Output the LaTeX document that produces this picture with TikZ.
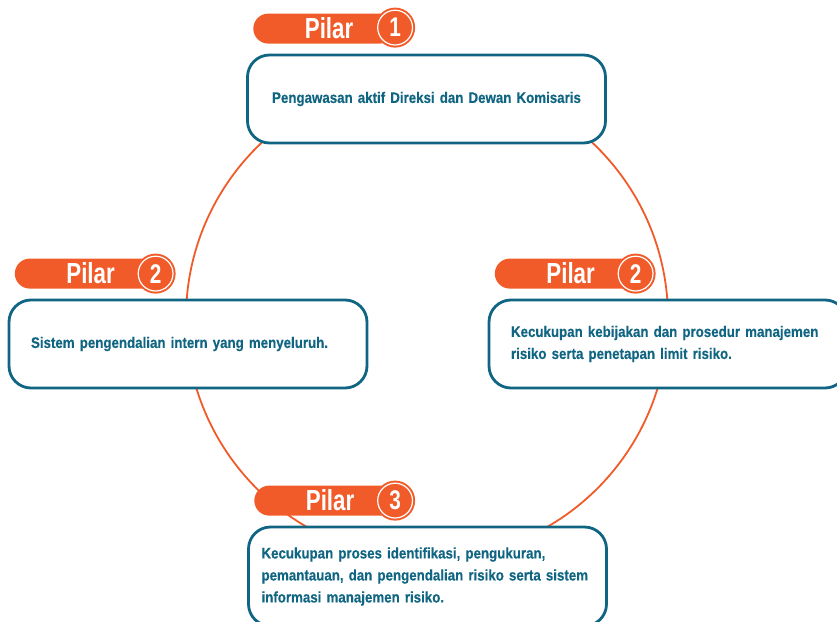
\documentclass[tikz,border=0pt]{standalone}
\usepackage{fontspec}
\newfontfamily\boxfont[FakeStretch=0.87, WordSpace=0.6, FakeBold=0.3]{Liberation Sans}
\newfontfamily\tagfont[FakeStretch=0.77]{Liberation Sans}
\usetikzlibrary{positioning}
\definecolor{pilarorange}{RGB}{241,91,41}
\definecolor{pilarteal}{RGB}{16,101,130}

\begin{document}
\begin{tikzpicture}[x=1pt, y=-1pt,
  pilarbox/.style={draw=pilarteal, line width=2.8pt, fill=white, rounded corners=22pt, minimum width=358pt, minimum height=88pt, inner xsep=22pt, text width=314pt, align=left, text=pilarteal, font=\boxfont\bfseries\fontsize{15.3}{22}\selectfont},
  pilltag/.style={fill=pilarorange, rounded corners=15pt, minimum height=30pt, minimum width=141pt, inner xsep=41pt, inner ysep=0pt, text width=59pt, align=right, anchor=west, text=white, font=\tagfont\bfseries\fontsize{29}{29}\selectfont},
  numtag/.style={circle, fill=pilarorange, draw=pilarorange, line width=2pt, double=white, double distance=1.2pt, minimum size=34.8pt, inner sep=0pt, text=white, font=\tagfont\bfseries\fontsize{27}{27}\selectfont},
  ring/.style={draw=pilarorange, line width=1.8pt}]
  \useasboundingbox (0,0) rectangle (837,621);
  \clip (0,0) rectangle (837,621);

  % the cycle behind the four pillars
  \coordinate (hub) at (427,318);
  \draw[ring] (hub) circle[radius=241];

  % pillars
  \node[pilarbox, align=center] (direksi) at (426.5,99) {Pengawasan aktif Direksi dan Dewan Komisaris};
  \node[pilarbox] (internal) at (188,344) {Sistem pengendalian intern yang menyeluruh.};
  \node[pilarbox] (kebijakan) at (668,344) {Kecukupan kebijakan dan prosedur manajemen\\risiko serta penetapan limit risiko.};
  \node[pilarbox, minimum height=99pt, inner xsep=13pt, text width=332pt] (proses) at (427.5,576.5) {Kecukupan proses identifikasi, pengukuran,\\pemantauan, dan pengendalian risiko serta sistem\\informasi manajemen risiko.};

  % tags
  \node[pilltag] (pillA) at ([shift={(7,-25)}]direksi.north west) {Pilar};
  \node[numtag] (numA) at ([shift={(149,-26)}]direksi.north west) {1};
  \node[pilltag] (pillB) at ([shift={(7,-25)}]internal.north west) {Pilar};
  \node[numtag] (numB) at ([shift={(148,-25)}]internal.north west) {2};
  \node[pilltag] (pillC) at ([shift={(7,-25)}]kebijakan.north west) {Pilar};
  \node[numtag] (numC) at ([shift={(148,-25)}]kebijakan.north west) {2};
  \node[pilltag] (pillD) at ([shift={(7,-25)}]proses.north west) {Pilar};
  \node[numtag] (numD) at ([shift={(148,-25)}]proses.north west) {3};
\end{tikzpicture}
\end{document}
